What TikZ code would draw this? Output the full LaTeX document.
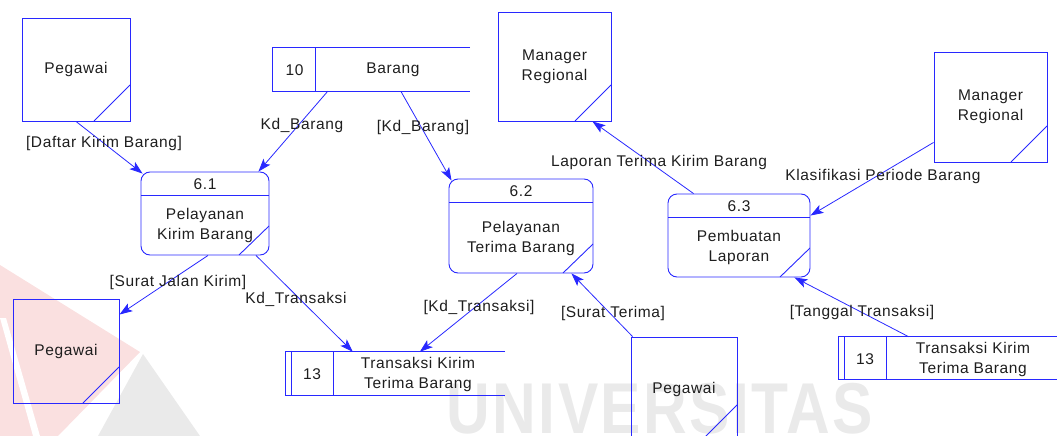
\documentclass[tikz,border=0pt]{standalone}
\usepackage{fontspec}
\setmainfont[LetterSpace=4]{Liberation Sans}
\usetikzlibrary{arrows.meta}

\definecolor{dfdblue}{RGB}{40,40,255}
\definecolor{dfdtext}{RGB}{30,30,30}
\definecolor{wmgray}{RGB}{234,234,234}
\definecolor{wmpink}{RGB}{250,224,224}

\tikzset{
  txt/.style={text=dfdtext, font=\fontsize{15.5}{20}\selectfont, inner sep=0pt, align=center},
  flow/.style={draw=dfdblue, line width=0.8pt, -{Stealth[length=13pt,width=9pt,inset=3pt]}},
  outline/.style={draw=dfdblue, line width=0.9pt},
  % external entity: square with a cut corner
  entity/.style={outline, rectangle, txt,
    path picture={\draw[dfdblue, line width=0.9pt]
      ([yshift=36pt]path picture bounding box.south east) --
      ([xshift=-36pt]path picture bounding box.south east);}},
  % process: rounded box with id strip and cut corner
  proc/.style={outline, rectangle, rounded corners=9pt, inner sep=0pt,
    path picture={\draw[dfdblue, line width=0.9pt]
      ([yshift=-23pt]path picture bounding box.north west) --
      ([yshift=-23pt]path picture bounding box.north east);
      \draw[dfdblue, line width=0.9pt]
      ([yshift=29pt]path picture bounding box.south east) --
      ([xshift=-30pt]path picture bounding box.south east);}},
  storearea/.style={rectangle, inner sep=0pt, draw=none},
}

\begin{document}
\begin{tikzpicture}[x=1pt,y=-1pt]
\useasboundingbox (0,0) rectangle (1057,436);

% faint lettering and logo in the background
\fill[wmpink] (0,265) -- (140,352) -- (58,436) -- (0,436) -- cycle;
\fill[white] (0,318) -- (6,318) -- (40,436) -- (33,436) -- cycle;
\fill[wmgray] (143,354) -- (200,436) -- (98,436) -- cycle;
\node[font=\bfseries\fontsize{72}{72}\selectfont, text=wmgray, inner sep=0pt,
      anchor=base, xscale=0.84] (wm) at (660,433) {UNIVERSITAS};

% external entities
\node[entity, minimum width=108pt, minimum height=103pt] (peg1) at (76,69.5) {Pegawai};
\node[entity, minimum width=113pt, minimum height=109pt] (mr1) at (554.5,66.5) {Manager\\Regional};
\node[entity, minimum width=113pt, minimum height=110pt] (mr2) at (990.5,107) {Manager\\Regional};
\node[entity, minimum width=106pt, minimum height=104pt] (peg2) at (66,351) {Pegawai};
\node[entity, minimum width=106pt, minimum height=104pt] (peg3) at (684,389) {Pegawai};

% processes
\node[proc, minimum width=128pt, minimum height=83pt] (p61) at (205,213.5) {};
\node[txt] (p61id) at (205,184) {6.1};
\node[txt] (p61t) at (205,225) {Pelayanan\\Kirim Barang};

\node[proc, minimum width=144pt, minimum height=94pt] (p62) at (521,226) {};
\node[txt] (p62id) at (521,191.5) {6.2};
\node[txt] (p62t) at (521,238) {Pelayanan\\Terima Barang};

\node[proc, minimum width=142pt, minimum height=83pt] (p63) at (739,235.5) {};
\node[txt] (p63id) at (739,206) {6.3};
\node[txt] (p63t) at (739,247.5) {Pembuatan\\Laporan};

% data stores
\node[storearea, minimum width=197pt, minimum height=43pt] (s10) at (371.5,69.5) {};
\draw[outline] (s10.north east) -- (s10.north west) -- (s10.south west) -- (s10.south east);
\draw[outline] ([xshift=43pt]s10.north west) -- ([xshift=43pt]s10.south west);
\node[txt] (s10id) at (294.5,70) {10};
\node[txt] (s10t) at (393,70) {Barang};

\node[storearea, minimum width=219pt, minimum height=43pt] (s13a) at (395.5,373.5) {};
\draw[outline] (s13a.north east) -- (s13a.north west) -- (s13a.south west) -- (s13a.south east);
\draw[outline] ([xshift=6pt]s13a.north west) -- ([xshift=6pt]s13a.south west);
\draw[outline] ([xshift=48pt]s13a.north west) -- ([xshift=48pt]s13a.south west);
\node[txt] (s13aid) at (312,374) {13};
\node[txt] (s13at) at (418,374) {Transaksi Kirim\\Terima Barang};

\node[storearea, minimum width=218pt, minimum height=42pt] (s13b) at (948,358) {};
\draw[outline] (s13b.north east) -- (s13b.north west) -- (s13b.south west) -- (s13b.south east);
\draw[outline] ([xshift=6pt]s13b.north west) -- ([xshift=6pt]s13b.south west);
\draw[outline] ([xshift=48pt]s13b.north west) -- ([xshift=48pt]s13b.south west);
\node[txt] (s13bid) at (865,359) {13};
\node[txt] (s13bt) at (973,359) {Transaksi Kirim\\Terima Barang};

% data flows
\draw[flow] (peg1.south) -- ([xshift=2pt,yshift=-2pt]p61.north west);
\draw[flow] ([xshift=55pt]s10.south west) -- ([xshift=-11pt]p61.north east);
\draw[flow] ([xshift=128pt]s10.south west) -- ([xshift=3pt,yshift=-2pt]p62.north west);
\draw[flow] ([xshift=26pt]p63.north west) -- ([xshift=-19pt]mr1.south east);
\draw[flow] ([yshift=20pt]mr2.south west) -- ([yshift=-22pt]p63.north east);
\draw[flow] ([xshift=3pt]p61.south) -- ([yshift=-16pt]peg2.north east);
\draw[flow] ([xshift=51pt]p61.south) -- ([xshift=67pt]s13a.north west);
\draw[flow] ([xshift=-4pt]p62.south) -- ([xshift=134pt]s13a.north west);
\draw[flow] ([xshift=2pt]peg3.north west) -- ([xshift=-22pt]p62.south east);
\draw[flow] ([xshift=70pt]s13b.north west) -- ([xshift=-16pt]p63.south east);

% flow labels
\node[txt] (l1) at (104,143) {[Daftar Kirim Barang]};
\node[txt] (l2) at (302,125) {Kd\_Barang};
\node[txt] (l3) at (423,127) {[Kd\_Barang]};
\node[txt] (l4) at (659,162) {Laporan Terima Kirim Barang};
\node[txt] (l5) at (883,176) {Klasifikasi Periode Barang};
\node[txt] (l6) at (178,282) {[Surat Jalan Kirim]};
\node[txt] (l7) at (296,299) {Kd\_Transaksi};
\node[txt] (l8) at (479,307) {[Kd\_Transaksi]};
\node[txt] (l9) at (613,313) {[Surat Terima]};
\node[txt] (l10) at (862,312) {[Tanggal Transaksi]};
\end{tikzpicture}
\end{document}
